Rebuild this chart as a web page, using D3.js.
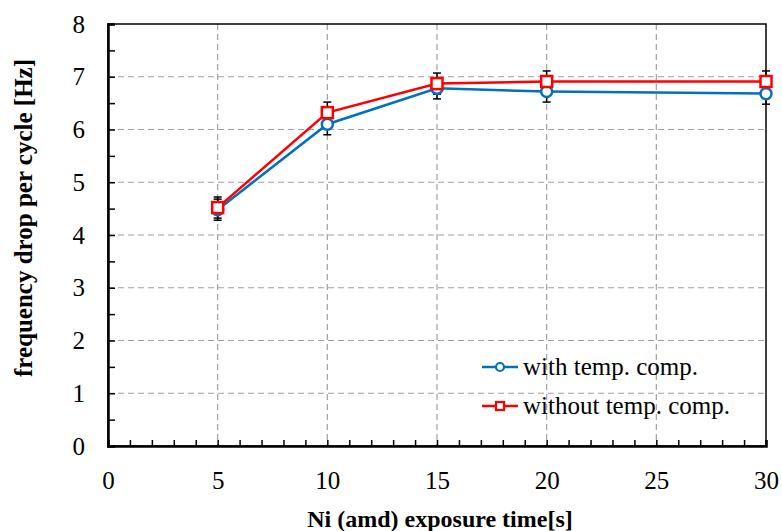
<!DOCTYPE html>
<html><head><meta charset="utf-8">
<script src="https://cdn.jsdelivr.net/npm/d3@7"></script>
<style>body{margin:0;background:#fff}svg{display:block}text{font-family:"Liberation Serif",serif}</style>
</head><body>
<svg id="c" width="782" height="531"></svg>
<script>
const xValues = [5, 10, 15, 20, 30];
const withComp = [4.48, 6.10, 6.78, 6.72, 6.68];
const withoutComp = [4.52, 6.32, 6.87, 6.91, 6.91];
const withErr = [0.2, 0.2, 0.2, 0.2, 0.2];
const withoutErr = [0.2, 0.2, 0.2, 0.2, 0.2];
const xTicks = [0, 5, 10, 15, 20, 25, 30];
const yTicks = [0, 1, 2, 3, 4, 5, 6, 7, 8];
const seriesNames = ["with temp. comp.", "without temp. comp."];

const svg = d3.select("#c");
const L = 108, R = 766, T = 24, B = 446;
const x = d3.scaleLinear().domain([0, 30]).range([L, R]);
const y = d3.scaleLinear().domain([0, 8]).range([B, T]);
const font = "Liberation Serif";

// grid
svg.append("g").selectAll("line").data(xTicks.filter(d => d > 0 && d < 30)).join("line")
  .attr("x1", d => x(d)).attr("x2", d => x(d)).attr("y1", T).attr("y2", B)
  .attr("stroke", "#a0a0a0").attr("stroke-width", 1.2).attr("stroke-dasharray", "6,4");
svg.append("g").selectAll("line").data(yTicks.filter(d => d > 0 && d < 8)).join("line")
  .attr("x1", L).attr("x2", R).attr("y1", d => y(d)).attr("y2", d => y(d))
  .attr("stroke", "#a0a0a0").attr("stroke-width", 1.2).attr("stroke-dasharray", "6,4");

// frame
svg.append("rect").attr("x", L).attr("y", T).attr("width", R - L).attr("height", B - T)
  .attr("fill", "none").attr("stroke", "#000").attr("stroke-width", 1.5);

// axes
const xAxis = d3.axisBottom(x).tickValues(d3.range(0, 31, 1)).tickSize(-6).tickFormat("");
const gx = svg.append("g").attr("transform", `translate(0,${B})`).call(xAxis);
gx.select(".domain").attr("stroke-width", 2.5);
gx.selectAll(".tick line").attr("stroke-width", 1.5);
const gxl = svg.append("g").attr("transform", `translate(0,${B})`)
  .call(d3.axisBottom(x).tickValues(xTicks).tickSize(0).tickPadding(25));
gxl.select(".domain").remove();
gxl.attr("font-family", font).attr("font-size", 25);
gxl.selectAll("text").attr("fill", "#000");

const yAxis = d3.axisLeft(y).tickValues(d3.range(0, 8.01, 0.5)).tickSize(-7).tickFormat("");
const gy = svg.append("g").attr("transform", `translate(${L},0)`).call(yAxis);
gy.select(".domain").attr("stroke-width", 2.5);
gy.selectAll(".tick line").attr("stroke-width", 1.5);
const gyl = svg.append("g").attr("transform", `translate(${L},0)`)
  .call(d3.axisLeft(y).tickValues(yTicks).tickSize(0).tickPadding(23));
gyl.select(".domain").remove();
gyl.attr("font-family", font).attr("font-size", 25);
gyl.selectAll("text").attr("fill", "#000");

// titles
svg.append("text").attr("x", 440).attr("y", 527).attr("text-anchor", "middle")
  .attr("font-family", font).attr("font-weight", "bold").attr("font-size", 24)
  .text("Ni (amd) exposure time[s]");
svg.append("text").attr("transform", "translate(32,218) rotate(-90)").attr("text-anchor", "middle")
  .attr("font-family", font).attr("font-weight", "bold").attr("font-size", 25)
  .text("frequency drop per cycle [Hz]");

// error bars
function errBars(vals, errs) {
  const g = svg.append("g").attr("stroke", "#000").attr("stroke-width", 1.5);
  xValues.forEach((xv, i) => {
    const cx = x(xv), y1 = y(vals[i] + errs[i]), y2 = y(vals[i] - errs[i]);
    g.append("line").attr("x1", cx).attr("x2", cx).attr("y1", y1).attr("y2", y2);
    g.append("line").attr("x1", cx - 4).attr("x2", cx + 4).attr("y1", y1).attr("y2", y1);
    g.append("line").attr("x1", cx - 4).attr("x2", cx + 4).attr("y1", y2).attr("y2", y2);
  });
}
errBars(withComp, withErr);
errBars(withoutComp, withoutErr);

const line = d3.line().x((d, i) => x(xValues[i])).y(d => y(d));
const blue = "#0070C0", red = "#FF0000";
svg.append("path").datum(withComp).attr("d", line).attr("fill", "none").attr("stroke", blue).attr("stroke-width", 2.5);
svg.append("g").selectAll("circle").data(withComp).join("circle")
  .attr("cx", (d, i) => x(xValues[i])).attr("cy", d => y(d)).attr("r", 5.5)
  .attr("fill", "#fff").attr("stroke", blue).attr("stroke-width", 2.5);
svg.append("path").datum(withoutComp).attr("d", line).attr("fill", "none").attr("stroke", red).attr("stroke-width", 2.5);
svg.append("g").selectAll("rect").data(withoutComp).join("rect")
  .attr("x", (d, i) => x(xValues[i]) - 5.5).attr("y", d => y(d) - 5.5).attr("width", 11).attr("height", 11)
  .attr("fill", "#fff").attr("stroke", red).attr("stroke-width", 2.5);

// legend
const lg = svg.append("g");
[[blue, "circle", 367], [red, "rect", 406]].forEach(([c, shape, ly], i) => {
  lg.append("line").attr("x1", 482).attr("x2", 518).attr("y1", ly).attr("y2", ly).attr("stroke", c).attr("stroke-width", 2.5);
  if (shape === "circle") lg.append("circle").attr("cx", 500).attr("cy", ly).attr("r", 4).attr("fill", "#fff").attr("stroke", c).attr("stroke-width", 2.2);
  else lg.append("rect").attr("x", 496).attr("y", ly - 4).attr("width", 8).attr("height", 8).attr("fill", "#fff").attr("stroke", c).attr("stroke-width", 2.2);
  lg.append("text").attr("x", 523).attr("y", ly + 8).attr("font-family", font).attr("font-size", 25).text(seriesNames[i]);
});
</script>
</body></html>
